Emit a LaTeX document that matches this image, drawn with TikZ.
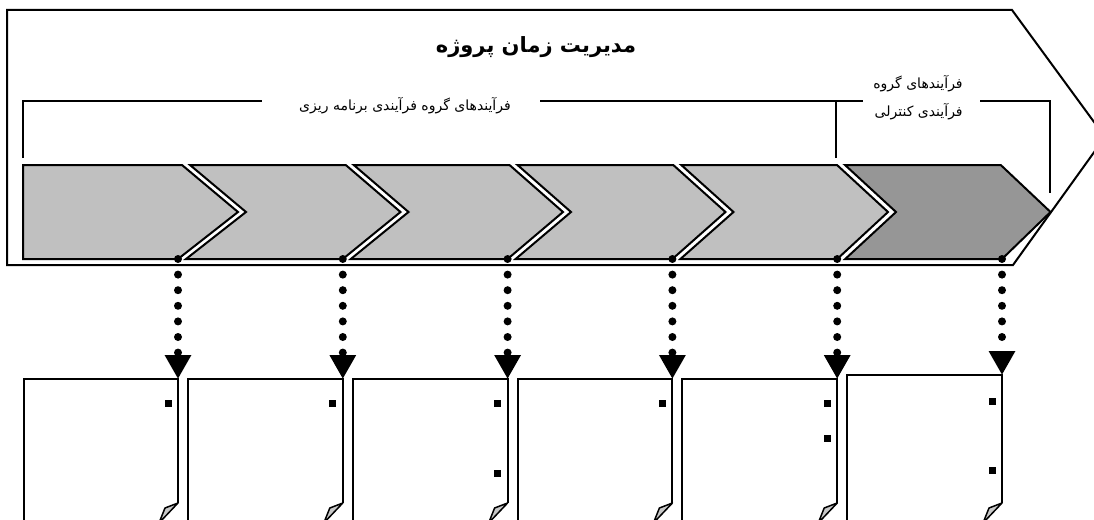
\documentclass[tikz,border=0pt]{standalone}
\usepackage{fontspec}
\usetikzlibrary{arrows.meta,positioning,calc}
\newfontfamily\fa[Script=Arabic]{DejaVu Sans}
\TeXXeTstate=1
\definecolor{chevlight}{HTML}{C0C0C0}
\definecolor{chevdark}{HTML}{969696}
\definecolor{foldgray}{HTML}{C8C8C8}

\begin{document}
\begin{tikzpicture}[x=1pt,y=-1pt]
\tikzset{chev/.style={draw,line width=2pt,line join=miter}}
\tikzset{brk/.style={draw,line width=1.5pt}}
\tikzset{doc/.style={draw,line width=2pt}}
\tikzset{dotarrow/.style={line width=8pt,line cap=round,dash pattern=on 0pt off 15.6pt,-{Triangle[length=24pt,width=25pt]}}}
\tikzset{bullet/.style={fill=black,minimum size=7pt,inner sep=0pt}}
\useasboundingbox (0,0) rectangle (1094,519);

\draw[chev,fill=chevlight] (23,165) -- (182,165) -- (238,212) -- (178,259) -- (23,259) -- cycle;
\coordinate (b0) at (178,259);
\foreach \i/\c in {1/chevlight,2/chevlight,3/chevlight,4/chevlight,5/chevdark}{
  \pgfmathsetmacro\t{182+163.75*\i}
  \pgfmathsetmacro\p{238+162.5*\i}
  \pgfmathsetmacro\b{178+164.8*\i}
  \draw[chev,fill=\c] ({\t-155.75},165) -- (\t,165) -- (\p,212) -- (\b,259) -- ({\b-156.8},259) -- ({\p-154.5},212) -- cycle;
  \coordinate (b\i) at (\b,259);
}
\draw[line width=2pt] (7,10) -- (1012,10) -- (1105,137) -- (1013,265) -- (7,265) -- cycle;

\node[font=\fa\bfseries\fontsize{21}{24}\selectfont] (title) at (536,47) {\beginR مدیریت زمان پروژه\endR};
\node[font=\fa\fontsize{14}{16}\selectfont] (plan) at (405,106) {\beginR فرآیندهای گروه فرآیندی برنامه ریزی\endR};
\node[font=\fa\fontsize{14}{28}\selectfont,align=right] (ctrl) at (918,98) {\beginR فرآیندهای گروه\endR\\\beginR فرآیندی کنترلی\endR};
\draw[brk] (23,158) -- (23,101) -- (262,101);
\draw[brk] (540,101) -- (863,101);
\draw[brk] (836,158) -- (836,101);
\draw[brk] (980,101) -- (1050,101) -- (1050,193);

\foreach \i/\top/\bul in {0/379/{403},1/379/{403},2/379/{403,473},3/379/{403},4/379/{403,438},5/375/{401,470}}{
  \pgfmathsetmacro\b{178+164.8*\i}
  \pgfmathsetmacro\l{ifthenelse(\i==0,24,188+164.8*(\i-1))}
  \coordinate (d\i) at (\b,\top);
  \draw[doc] (\l,530) -- (\l,\top) -- (d\i) -- (\b,503);
  \filldraw[doc,fill=foldgray,line width=1.5pt,line join=round] (\b,503) -- ({\b-13},508) -- ({\b-19},523) -- cycle;
  \foreach \y in \bul{
    \node[bullet] at ({\b-10},\y) {};
  }
  \draw[dotarrow] (b\i) -- (d\i);
}
\end{tikzpicture}
\end{document}
